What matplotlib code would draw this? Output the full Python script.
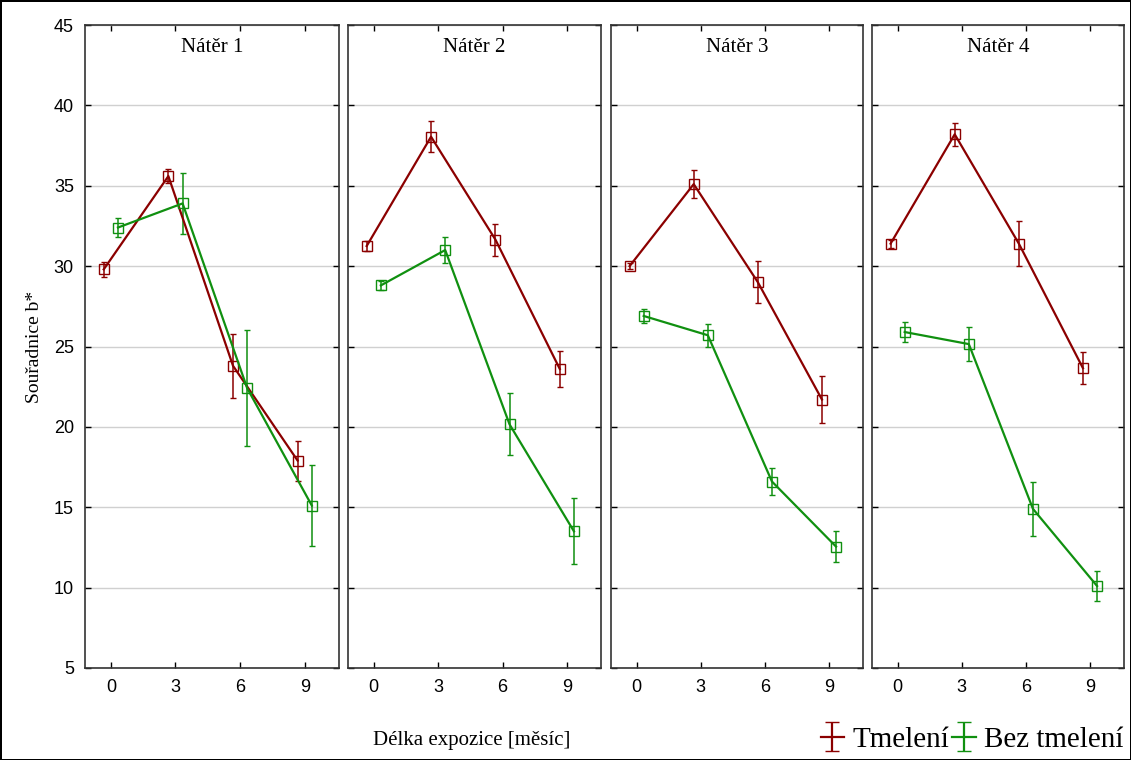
import numpy as np
import matplotlib
matplotlib.use('Agg')
import matplotlib.pyplot as plt

# months of exposure (x categories)
months = [0, 3, 6, 9]
panels = ['Nátěr 1', 'Nátěr 2', 'Nátěr 3', 'Nátěr 4']

# Tmelení (puttied) - means and error half-widths per panel
tmel_mean = [[29.8, 35.6, 23.8, 17.9],
             [31.25, 38.05, 31.65, 23.6],
             [30.0, 35.1, 29.0, 21.7],
             [31.4, 38.2, 31.4, 23.65]]
tmel_err = [[0.45, 0.45, 2.0, 1.25],
            [0.3, 0.95, 1.0, 1.15],
            [0.2, 0.85, 1.3, 1.45],
            [0.25, 0.7, 1.4, 1.0]]

# Bez tmelení (no putty)
bez_mean = [[32.4, 33.9, 22.4, 15.1],
            [28.8, 31.0, 20.15, 13.5],
            [26.9, 25.7, 16.6, 12.55],
            [25.9, 25.15, 14.9, 10.1]]
bez_err = [[0.6, 1.9, 3.6, 2.5],
           [0.3, 0.8, 1.93, 2.05],
           [0.45, 0.7, 0.85, 0.95],
           [0.6, 1.05, 1.7, 0.95]]

red = '#8b0000'
green = '#109010'
serif = 'Liberation Serif'
narrow = ['Liberation Sans Narrow', 'Liberation Sans']

fig = plt.figure(figsize=(11.31, 7.6), dpi=100)
fig.patch.set_edgecolor('black')
fig.patch.set_linewidth(2)

lefts = [85, 348, 611, 872]
widths = [254, 253, 252, 252]
x = np.arange(len(months))
off = 0.11

for i in range(4):
    ax = fig.add_axes([lefts[i] / 1131, 1 - 668 / 760, widths[i] / 1131, 643 / 760])
    ax.errorbar(x - off, tmel_mean[i], yerr=tmel_err[i], color=red, marker='s',
                markersize=7, markerfacecolor='none', markeredgewidth=1,
                linewidth=1.6, elinewidth=1.1, capsize=2)
    ax.errorbar(x + off, bez_mean[i], yerr=bez_err[i], color=green, marker='s',
                markersize=7, markerfacecolor='none', markeredgewidth=1,
                linewidth=1.6, elinewidth=1.1, capsize=2)
    ax.set_ylim(5, 45)
    ax.set_xlim(-0.4, 3.53)
    ax.set_yticks(range(5, 50, 5))
    ax.set_xticks(x)
    ax.set_xticklabels([str(m) for m in months], family=narrow, fontsize=13)
    ax.grid(axis='y', color='#d0d0d0', linewidth=1)
    ax.set_axisbelow(True)
    ax.tick_params(direction='in', top=True, right=True, length=4, width=1, pad=8)
    for s in ax.spines.values():
        s.set_linewidth(1.2)
        s.set_color('#333333')
    if i == 0:
        ax.set_yticklabels([str(v) for v in range(5, 50, 5)], family=narrow, fontsize=13)
        ax.set_ylabel('Souřadnice b*', family=serif, fontsize=14, labelpad=8)
    else:
        ax.set_yticklabels([])
    ax.text(0.5, 0.965, panels[i], transform=ax.transAxes, ha='center', va='center',
            family=serif, fontsize=15)

fig.text(472 / 1131, 1 - 740 / 760, 'Délka expozice [měsíc]', ha='center', va='center',
         family=serif, fontsize=15)

# legend proxies
lax = fig.add_axes([0, 0, 0.01, 0.01])
lax.set_axis_off()
h1 = lax.errorbar([np.nan], [np.nan], yerr=[1], color=red, linewidth=1.6, capsize=5)
h2 = lax.errorbar([np.nan], [np.nan], yerr=[1], color=green, linewidth=1.6, capsize=5)
fig.legend([h1, h2], ['Tmelení', 'Bez tmelení'], loc='lower right',
           bbox_to_anchor=(1.017, -0.025), ncol=2, frameon=False,
           prop={'family': serif, 'size': 21}, handlelength=0.8,
           handletextpad=0.3, columnspacing=0.1)

fig.savefig('out.png', dpi=100)
